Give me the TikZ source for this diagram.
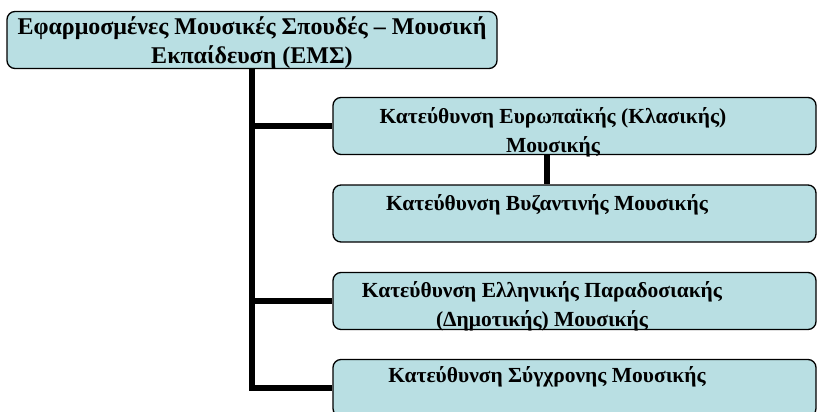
\documentclass[tikz,border=0pt]{standalone}
\usepackage{fontspec}
\setmainfont{Liberation Serif}
\definecolor{boxblue}{HTML}{B9DFE3}

\begin{document}
\begin{tikzpicture}[x=1pt,y=-1pt]
\tikzset{box/.style = {draw, rounded corners=8pt, fill=boxblue, line width=1.3pt, inner sep=0pt, minimum height=57pt}}
\tikzset{branch/.style = {box, minimum width=483pt}}
\tikzset{txt/.style = {font=\bfseries\fontsize{21.5}{29}\selectfont, align=center, inner sep=0pt, anchor=base}}
\tikzset{link/.style = {line width=6pt}}
\useasboundingbox (0,0) rectangle (817,412);

\node[box, minimum width=490pt] (ems) at (252,40) {};
\node[branch] (klas) at (574.5,126) {};
\node[branch] (byz) at (574.5,213.5) {};
\node[branch] (parad) at (574.5,301) {};
\node[branch] (sygx) at (574.5,388) {};

\node[txt, font=\bfseries\fontsize{24}{29}\selectfont] (emstxt) at (252,64) {Εφαρμοσμένες Μουσικές Σπουδές – Μουσική\\Εκπαίδευση (ΕΜΣ)};
\node[txt] (klastxt) at (553,152) {Κατεύθυνση Ευρωπαϊκής (Κλασικής)\\Μουσικής};
\node[txt] (byztxt) at (547,210) {Κατεύθυνση Βυζαντινής Μουσικής};
\node[txt] (paradtxt) at (542,326) {Κατεύθυνση Ελληνικής Παραδοσιακής\\(Δημοτικής) Μουσικής};
\node[txt] (sygxtxt) at (547,382) {Κατεύθυνση Σύγχρονης Μουσικής};

\draw[link] (ems.south) |- (klas.west);
\draw[link] (ems.south) |- (parad.west);
\draw[link] (ems.south) |- (sygx.west);
\draw[link] (klas.south -| byztxt.center) -- (byz.north -| byztxt.center);
\end{tikzpicture}
\end{document}
